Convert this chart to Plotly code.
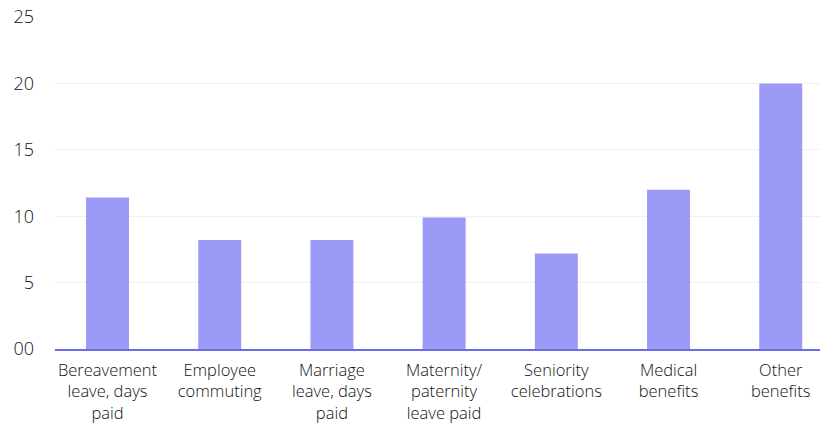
import plotly.graph_objects as go

categories = ["Bereavement<br>leave, days<br>paid", "Employee<br>commuting", "Marriage<br>leave, days<br>paid",
              "Maternity/<br>paternity<br>leave paid", "Seniority<br>celebrations", "Medical<br>benefits", "Other<br>benefits"]
values = [11.4, 8.2, 8.2, 9.9, 7.2, 12.0, 20.0]
y_tickvals = [0, 5, 10, 15, 20, 25]
y_ticktext = ["00", "5", "10", "15", "20", "25"]

fig = go.Figure(go.Bar(x=categories, y=values, marker=dict(color="#9b9bf7", line=dict(width=0))))

fig.update_layout(
    width=824, height=425,
    margin=dict(l=55, r=4, t=17, b=76),
    paper_bgcolor="white", plot_bgcolor="white",
    bargap=0.617,
    font=dict(family="Open Sans", size=16, color="#111111", weight=300),
    showlegend=False,
)
fig.update_xaxes(range=[-0.468, 6.35], showgrid=False, showline=True, linecolor="#6b6be8", linewidth=2,
                 tickfont=dict(size=16.5), ticks="", tickangle=0, ticklabelstandoff=5, automargin=False)
fig.update_yaxes(range=[0, 25], tickvals=y_tickvals, ticktext=y_ticktext, showgrid=True, gridcolor="#f0f0f0",
                 zeroline=False, showline=False, tickfont=dict(size=18), ticklabelstandoff=20, automargin=False)

fig.write_html("out.html")
